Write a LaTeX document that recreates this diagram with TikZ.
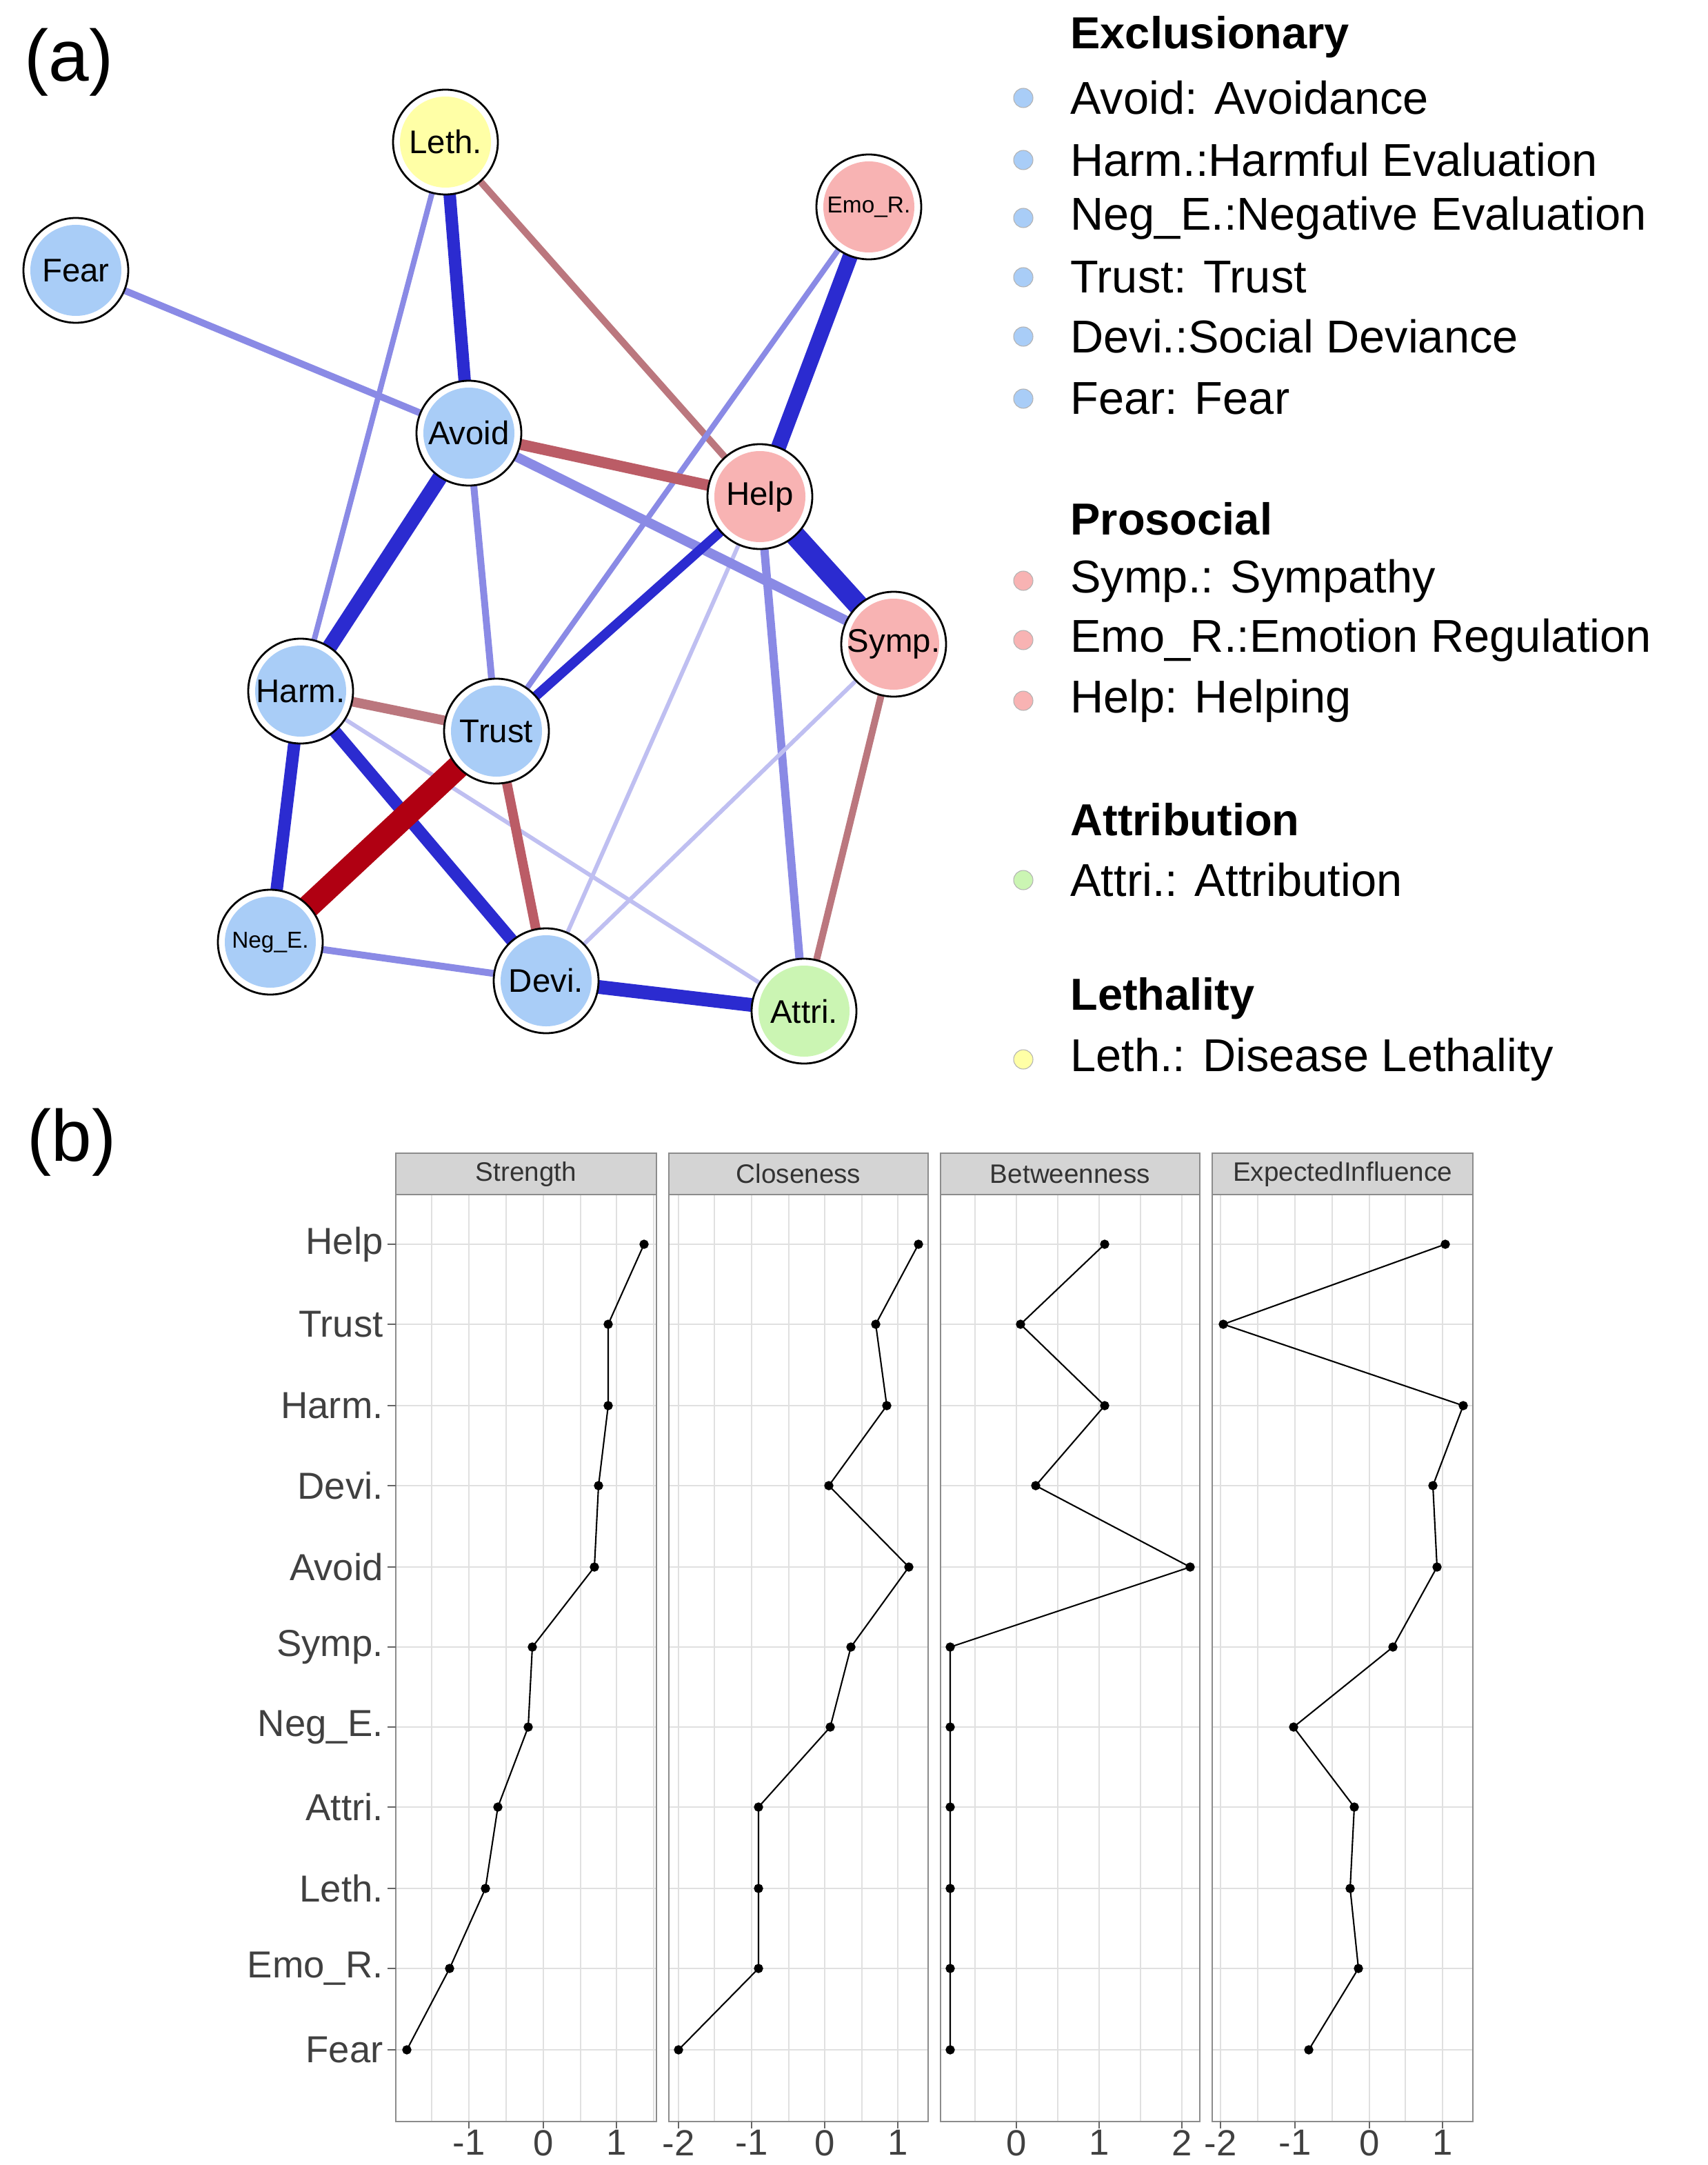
\documentclass[tikz,border=0pt]{standalone}
\usepackage{fontspec}
\setmainfont{Liberation Sans}
\usetikzlibrary{backgrounds}
\definecolor{nb}{HTML}{A9CDF7}
\definecolor{np}{HTML}{F8B3B3}
\definecolor{ng}{HTML}{CBF5B3}
\definecolor{ny}{HTML}{FFFFA6}
\definecolor{eb}{HTML}{2B2BD0}
\definecolor{er}{HTML}{B00012}
\begin{document}
\begin{tikzpicture}[x=0.02cm,y=-0.02cm,
 nd/.style={circle,draw=black,line width=0.8pt,fill=white,minimum size=76*0.02cm,inner sep=0pt,
   path picture={\fill[#1] (path picture bounding box.center) circle (33*0.02cm);}},
 lab/.style={font=\fontsize{13.5}{15}\selectfont},
 slab/.style={font=\fontsize{9.5}{10}\selectfont},
 B/.style={draw=eb,line width=#1*0.02cm},
 LB/.style={draw=eb!55,line width=#1*0.02cm},
 VB/.style={draw=eb!30,line width=#1*0.02cm},
 R/.style={draw=er,line width=#1*0.02cm},
 LR/.style={draw=er!45!white!85!black,line width=#1*0.02cm},
 MR/.style={draw=er!60!white!90!black,line width=#1*0.02cm},
 leg/.style={font=\fontsize{19}{21}\selectfont,anchor=west},
 legt/.style={font=\fontsize{18.5}{20}\selectfont\bfseries,anchor=west},
 bul/.style={circle,draw=gray!60,line width=0.3pt,minimum size=14*0.02cm,inner sep=0pt},
 rl/.style={font=\fontsize{15.5}{17}\selectfont,anchor=east,text=black!75},
 tl/.style={font=\fontsize{15}{16}\selectfont,anchor=north,text=black!75,inner sep=1pt},
 pl/.style={black,line width=0.6pt,mark=*,mark size=1.6pt}
]
\useasboundingbox (0,0) rectangle (1238,1569.5);
\node[font=\fontsize{30}{32}\selectfont] (la) at (50,45) {(a)};
\node[font=\fontsize{30}{32}\selectfont] (lb) at (52,828) {(b)};
% nodes
\node[nd=ny,lab] (Leth) at (323,103) {Leth.};
\node[nd=np,slab] (Emo) at (630,150) {Emo\_R.};
\node[nd=nb,lab] (Fear) at (55,196) {Fear};
\node[nd=nb,lab] (Avoid) at (340,314) {Avoid};
\node[nd=np,lab] (Help) at (551,360) {Help};
\node[nd=np,lab] (Symp) at (648,467) {Symp.};
\node[nd=nb,lab] (Harm) at (218,501) {Harm.};
\node[nd=nb,lab] (Trust) at (360,530) {Trust};
\node[nd=nb,slab] (Neg) at (196,683) {Neg\_E.};
\node[nd=nb,lab] (Devi) at (396,711) {Devi.};
\node[nd=ng,lab] (Attri) at (583,733) {Attri.};
\begin{scope}[on background layer]
\draw[LB=5] (Fear.center)--(Avoid.center);
\draw[B=9] (Leth.center)--(Avoid.center);
\draw[LR=5] (Leth.center)--(Help.center);
\draw[LB=4] (Leth.center)--(Harm.center);
\draw[B=11] (Emo.center)--(Help.center);
\draw[LB=4] (Emo.center)--(Trust.center);
\draw[VB=3] (Help.center)--(Devi.center);
\draw[LB=6] (Help.center)--(Attri.center);
\draw[MR=8] (Avoid.center)--(Help.center);
\draw[LB=7] (Avoid.center)--(Symp.center);
\draw[B=11] (Avoid.center)--(Harm.center);
\draw[LB=5] (Avoid.center)--(Trust.center);
\draw[B=15] (Help.center)--(Symp.center);
\draw[B=7] (Help.center)--(Trust.center);
\draw[VB=3] (Symp.center)--(Devi.center);
\draw[LR=5] (Symp.center)--(Attri.center);
\draw[LR=7] (Harm.center)--(Trust.center);
\draw[B=9] (Harm.center)--(Neg.center);
\draw[B=9] (Harm.center)--(Devi.center);
\draw[VB=3] (Harm.center)--(Attri.center);
\draw[R=17] (Trust.center)--(Neg.center);
\draw[MR=7] (Trust.center)--(Devi.center);
\draw[LB=5] (Neg.center)--(Devi.center);
\draw[B=10] (Devi.center)--(Attri.center);
\end{scope}
% legend
\node[legt] (t1) at (770,27) {Exclusionary};
\node[legt] (t2) at (770,376) {Prosocial};
\node[legt] (t3) at (770,594) {Attribution};
\node[legt] (t4) at (770,724) {Lethality};
\foreach \y/\c/\t [count=\i] in {71/nb/{Avoid: Avoidance},116/nb/{Harm.:Harmful Evaluation},158/nb/{Neg\_E.:Negative Evaluation},201/nb/{Trust: Trust},244/nb/{Devi.:Social Deviance},289/nb/{Fear: Fear},421/np/{Symp.: Sympathy},464/np/{Emo\_R.:Emotion Regulation},508/np/{Help: Helping},638/ng/{Attri.: Attribution},768/ny/{Leth.: Disease Lethality}}{
 \node[bul,fill=\c] (b\i) at (742,\y) {};
 \node[leg] (l\i) at (770,\y) {\t};
}
% panel b
\foreach \xa/\xb/\name [count=\p] in {287/476/Strength,485/673/Closeness,682/870/Betweenness,879/1068/ExpectedInfluence}{
 \fill[white] (\xa,866) rectangle (\xb,1538);
 \foreach \y in {902,960,1019,1077,1136,1194,1252,1310,1369,1427,1486}{
   \draw[black!12,line width=0.5pt] (\xa,\y)--(\xb,\y);}
 \node[draw=black!45,fill=black!17,line width=0.5pt,minimum width=(\xb-\xa)*0.02cm,minimum height=30*0.02cm,inner sep=0pt,font=\fontsize{11}{12}\selectfont,text=black!80] (s\p) at ({(\xa+\xb)/2},851) {\name};
}
\foreach \x in {340,367,394,421,447,313,474, 492,518,545,572,598,625,651, 707,737,767,797,827,857, 885,912,939,966,993,1019,1046}{
 \draw[black!12,line width=0.5pt] (\x,866)--(\x,1538);}
\foreach \xa/\xb in {287/476,485/673,682/870,879/1068}{\draw[black!45,line width=0.5pt] (\xa,866) rectangle (\xb,1538);}
% ticks
\foreach \x/\t in {340/-1,394/0,447/1,492/-2,545/-1,598/0,651/1,737/0,797/1,857/2,885/-2,939/-1,993/0,1046/1}{
 \draw[black!60] (\x,1538)--(\x,1543);
 \node[tl] at (\x,1542) {\t};}
\foreach \y/\t in {902/Help,960/Trust,1019/Harm.,1077/Devi.,1136/Avoid,1194/Symp.,1252/Neg\_E.,1310/Attri.,1369/Leth.,1427/Emo\_R.,1486/Fear}{
 \node[rl] at (284,\y) {\t};
 \draw[black!60] (281,\y)--(287,\y);}
\draw[pl] plot coordinates {(467,902) (441,960) (441,1019) (434,1077) (431,1136) (386,1194) (383,1252) (361,1310) (352,1369) (326,1427) (295,1486)};
\draw[pl] plot coordinates {(666,902) (635,960) (643,1019) (601,1077) (659,1136) (617,1194) (602,1252) (550,1310) (550,1369) (550,1427) (492,1486)};
\draw[pl] plot coordinates {(801,902) (740,960) (801,1019) (751,1077) (863,1136) (689,1194) (689,1252) (689,1310) (689,1369) (689,1427) (689,1486)};
\draw[pl] plot coordinates {(1048,902) (887,960) (1061,1019) (1039,1077) (1042,1136) (1010,1194) (938,1252) (982,1310) (979,1369) (985,1427) (949,1486)};
\end{tikzpicture}
\end{document}
